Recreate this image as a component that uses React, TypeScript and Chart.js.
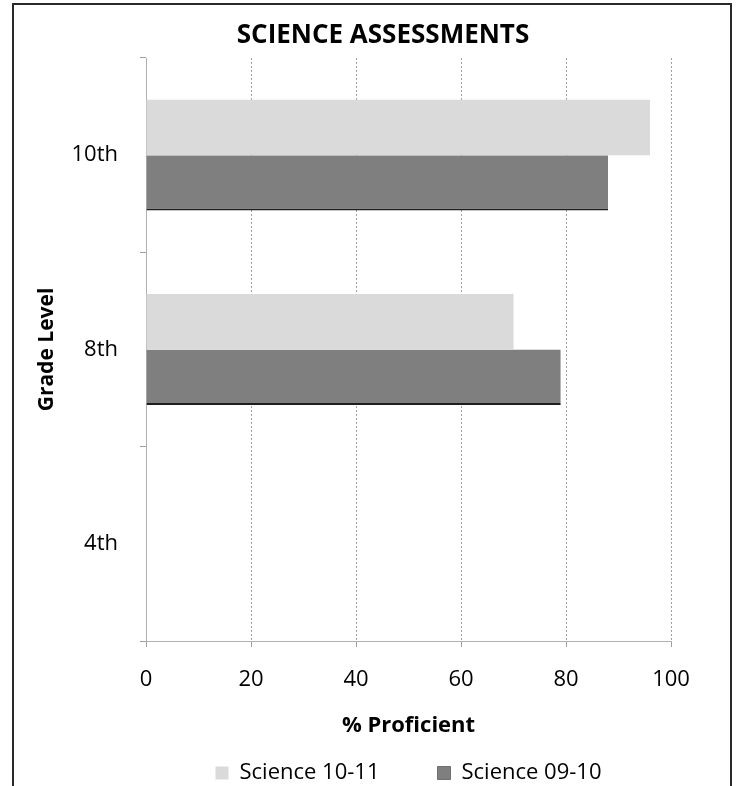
import React, { useEffect, useRef } from 'react';
import { Chart, registerables } from 'chart.js';

Chart.register(...registerables);

const chartTitle = 'SCIENCE ASSESSMENTS';
const gradeLevels = ['10th', '8th', '4th'];
const science1011: (number | null)[] = [96, 70, null];
const science0910: (number | null)[] = [88, 79, null];
const seriesNames = ['Science 10-11', 'Science 09-10'];
const xTickValues = [0, 20, 40, 60, 80, 100];
const xAxisTitle = '% Proficient';
const yAxisTitle = 'Grade Level';

const FONT = "'Open Sans', 'Noto Sans', sans-serif";

export default function App() {
  const ref = useRef<HTMLCanvasElement>(null);

  useEffect(() => {
    const canvas = ref.current;
    if (!canvas) return;
    const chart = new Chart(canvas, {
      type: 'bar',
      data: {
        labels: gradeLevels,
        datasets: [
          {
            label: seriesNames[0],
            data: science1011,
            backgroundColor: '#dadada',
            borderColor: '#b5b5b5',
            borderWidth: { top: 0, right: 0, bottom: 0, left: 0 },
            borderSkipped: false,
            categoryPercentage: 0.57,
            barPercentage: 1,
          },
          {
            label: seriesNames[1],
            data: science0910,
            backgroundColor: '#7f7f7f',
            borderColor: '#1e1e1e',
            borderWidth: { top: 0, right: 0, bottom: 2, left: 0 },
            borderSkipped: false,
            categoryPercentage: 0.57,
            barPercentage: 1,
          },
        ],
      },
      options: {
        indexAxis: 'y',
        responsive: false,
        animation: false,
        devicePixelRatio: 1,
        layout: { padding: { top: 0, left: 0, right: -30, bottom: -8 } },
        plugins: {
          title: {
            display: true,
            text: chartTitle,
            color: '#000',
            font: { family: FONT, size: 26, weight: 'bold' },
            padding: { top: 20.4, bottom: 6.4 },
          },
          legend: {
            position: 'bottom',
            fullSize: false,
            labels: {
              boxWidth: 13,
              boxHeight: 13,
              padding: 58,
              color: '#000',
              font: { family: FONT, size: 22 },
            },
          },
          tooltip: { enabled: false },
        },
        scales: {
          x: {
            min: xTickValues[0],
            max: xTickValues[xTickValues.length - 1],
            ticks: {
              stepSize: xTickValues[1] - xTickValues[0],
              color: '#000',
              font: { family: FONT, size: 22 },
              padding: 19.8,
            },
            grid: { color: '#a0a0a0', tickLength: 6, lineWidth: 1 },
            border: { display: true, color: '#b0b0b0', width: 1, dash: [2, 2] },
            title: {
              display: true,
              text: xAxisTitle,
              color: '#000',
              font: { family: FONT, size: 22, weight: 'bold' },
              padding: { top: 0, bottom: -35.2 },
            },
            afterFit: (scale: any) => {
              scale.height = 63;
            },
          },
          y: {
            position: 'left',
            ticks: {
              color: '#000',
              font: { family: FONT, size: 22 },
              padding: 22,
            },
            grid: { drawOnChartArea: false, color: '#a0a0a0', tickLength: 6 },
            border: { display: true, color: '#b0b0b0', width: 1 },
            title: {
              display: true,
              text: yAxisTitle,
              color: '#000',
              font: { family: FONT, size: 21, weight: 'bold' },
              padding: { top: 34.4, bottom: 0 },
            },
            afterFit: (scale: any) => {
              scale.width = 146;
            },
          },
          yRight: {
            type: 'category',
            position: 'right',
            display: true,
            ticks: { display: false },
            grid: { display: false },
            border: { display: false },
            title: { display: false },
            afterFit: (scale: any) => {
              scale.width = 95;
            },
          },
        },
      },
    });
    return () => chart.destroy();
  }, []);

  return (
    <div style={{ position: 'absolute', left: 0, top: 0, width: 736, height: 786, overflow: 'hidden', background: '#fff' }}>
      <div
        style={{
          position: 'absolute',
          left: 12,
          top: 3,
          width: 720,
          height: 800,
          boxSizing: 'border-box',
          borderLeft: '2px solid #2a2a2a',
          borderTop: '2px solid #2a2a2a',
          borderRight: '2px solid #2a2a2a',
        }}
      />
      <canvas
        ref={ref}
        width={736}
        height={786}
        style={{ position: 'absolute', left: 0, top: 0, width: 736, height: 786 }}
      />
    </div>
  );
}
